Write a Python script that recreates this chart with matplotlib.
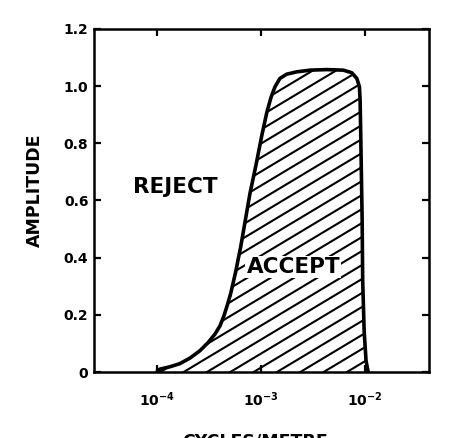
import matplotlib
matplotlib.use("Agg")
import matplotlib.pyplot as plt
from matplotlib.collections import LineCollection
from matplotlib.ticker import FixedLocator, FuncFormatter, NullLocator
import numpy as np

# Filter response (cycles/metre vs amplitude)
freq_cpm = [1.0e-4, 1.07e-4, 1.33e-4, 1.66e-4, 2.07e-4, 2.59e-4, 3.11e-4,
            3.61e-4, 4.04e-4, 4.41e-4, 4.74e-4, 5.11e-4, 5.42e-4, 5.75e-4,
            6.05e-4, 6.38e-4, 7.15e-4, 7.84e-4, 8.95e-4, 1.02e-3, 1.14e-3,
            1.25e-3, 1.365e-3, 1.52e-3, 1.77e-3, 2.20e-3, 2.96e-3, 4.28e-3,
            6.18e-3, 7.44e-3, 8.32e-3, 8.81e-3, 8.95e-3, 9.16e-3, 9.36e-3,
            9.47e-3, 9.78e-3, 1.02e-2, 1.07e-2]
amplitude = [0.0, 0.01, 0.018, 0.029, 0.048, 0.074, 0.103,
             0.132, 0.161, 0.196, 0.232, 0.273, 0.313, 0.354,
             0.395, 0.436, 0.54, 0.624, 0.723, 0.828, 0.909,
             0.961, 0.998, 1.027, 1.042, 1.050, 1.056, 1.058,
             1.056, 1.047, 1.027, 0.998, 0.951, 0.74, 0.53,
             0.32, 0.144, 0.039, 0.0]

x_ticks = [1e-4, 1e-3, 1e-2]
y_ticks = [0, 0.2, 0.4, 0.6, 0.8, 1.0, 1.2]
y_tick_labels = ['0', '0.2', '0.4', '0.6', '0.8', '1.0', '1.2']

plt.rcParams['font.family'] = ['DejaVu Sans']
plt.rcParams['font.weight'] = 'bold'
plt.rcParams['mathtext.default'] = 'bf'

W, H = 458, 438
fig = plt.figure(figsize=(W / 100, H / 100), dpi=100)
ax = fig.add_axes([94 / W, 1 - 372 / H, 335 / W, 343 / H])

ax.set_xscale('log')
ax.set_xlim(2.5e-5, 4.1e-2)
ax.set_ylim(0, 1.2)

# region under the curve, used to clip the hatching
fill = ax.fill_between(freq_cpm, amplitude, 0, facecolor='white',
                       edgecolor='none', zorder=1)
clip = fill.get_paths()[0]

# hatch lines at ~31 deg, built in axes fraction coords
aw, ah = 335.0, 343.0
slope, gap, c0 = 0.6, 14.0, -67.8
segs = []
for k in range(-40, 40):
    c = c0 + k * gap
    segs.append([(0.0, c / ah), (1.0, (slope * aw + c) / ah)])
hatch = LineCollection(segs, colors='black', linewidths=1.5,
                       transform=ax.transAxes, zorder=2)
ax.add_collection(hatch)
hatch.set_clip_path(clip, ax.transData)

ax.plot(freq_cpm, amplitude, color='black', lw=2.6, solid_joinstyle='round',
        solid_capstyle='round', zorder=3)

ax.text(1.5e-4, 0.646, 'REJECT', fontsize=15.5, fontweight='bold',
        ha='center', va='center')
ax.text(2.04e-3, 0.368, 'ACCEPT', fontsize=15.5, fontweight='bold',
        ha='center', va='center', zorder=4,
        bbox=dict(facecolor='white', edgecolor='none', pad=1.0))

ax.xaxis.set_major_locator(FixedLocator(x_ticks))
ax.xaxis.set_minor_locator(NullLocator())
ax.xaxis.set_major_formatter(FuncFormatter(lambda v, p: r'$10^{%d}$' % round(np.log10(v))))
ax.yaxis.set_major_locator(FixedLocator(y_ticks))
ax.set_yticklabels(y_tick_labels)

ax.tick_params(direction='in', length=5, width=1.6, top=True, right=True,
               labelsize=10)
ax.tick_params(axis='x', pad=13)
ax.tick_params(axis='y', pad=4)
for s in ax.spines.values():
    s.set_linewidth(1.8)

ax.set_ylabel('AMPLITUDE', fontsize=12.5, fontweight='bold')
ax.yaxis.set_label_coords(-0.149, 0.53)
fig.text(255 / W, 1 - 433 / H, 'CYCLES/METRE', fontsize=12.5,
         fontweight='bold', ha='center', va='top')

fig.savefig('out.png', dpi=100)
